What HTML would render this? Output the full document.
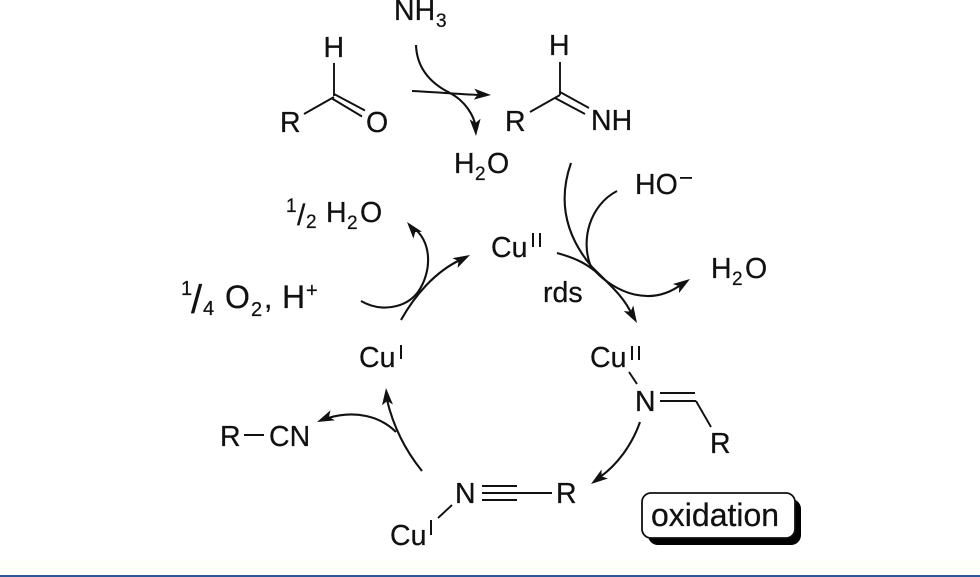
<!DOCTYPE html>
<html><head><meta charset="utf-8">
<style>
html,body{margin:0;padding:0;background:#fff;width:980px;height:577px;overflow:hidden}
svg{display:block}
text{font-family:"Liberation Sans",Arial,sans-serif;font-size:28.5px;fill:#111;stroke:#111;stroke-width:.25}
.s{font-size:19px}
.b{font-size:32px}
path,line{fill:none;stroke:#111;stroke-width:1.9}
path.a{stroke-width:2.1}
</style></head><body>
<svg width="980" height="577" viewBox="0 0 980 577" xmlns="http://www.w3.org/2000/svg">
<defs><polygon id="h" points="0,0 -17,-5.5 -13,0 -17,5.5" fill="#111"/></defs>
<rect x="0" y="575" width="980" height="2" fill="#2a5597"/>
<rect x="0" y="561" width="980" height="14" fill="#fffffa"/>

<!-- aldehyde -->
<text x="394" y="20">NH</text><text class="s" x="436" y="27">3</text>
<text x="323.500" y="57">H</text><text x="280" y="132">R</text><text x="366" y="132">O</text>
<line x1="334" y1="63" x2="334" y2="96"/><line x1="334" y1="97" x2="304" y2="114"/>
<line x1="334" y1="94" x2="365" y2="110.500"/><line x1="332" y1="98.500" x2="362" y2="116.500"/>
<!-- imine -->
<text x="549" y="55">H</text><text x="505" y="131">R</text><text x="591" y="130">NH</text>
<line x1="560" y1="62" x2="560" y2="95"/><line x1="560" y1="95" x2="530" y2="112"/>
<line x1="560" y1="92" x2="589" y2="108"/><line x1="555" y1="98" x2="585" y2="114"/>
<text x="454" y="173">H</text><text class="s" x="475" y="180">2</text><text x="487" y="173">O</text>

<path class="a" d="M416,45 C417,75 440,88 450,93 C465,101 474,115 476,128"/>
<use href="#h" transform="translate(476,136) rotate(87)"/>
<path class="a" d="M412,91 C435,92 455,94 480,95"/>
<use href="#h" transform="translate(491,95) rotate(3)"/>

<!-- right top -->
<text x="635" y="194">HO</text><rect x="680" y="177" width="12" height="1.800" fill="#111"/>
<text x="711" y="278">H</text><text class="s" x="732" y="285">2</text><text x="745" y="278">O</text>
<text x="491" y="257">Cu</text>
<rect x="532" y="233" width="2" height="14" fill="#111"/><rect x="539" y="233" width="2" height="14" fill="#111"/>
<text x="543" y="302">rds</text>
<path class="a" d="M571,163 C558,200 565,235 592,267 C610,285 625,298 632,315"/>
<use href="#h" transform="translate(637,323) rotate(60)"/>
<path class="a" d="M557,253 C575,258 585,263 595,271 C615,292 650,308 682,284"/>
<use href="#h" transform="translate(690,279) rotate(-34)"/>
<path class="a" d="M617,191 C590,205 580,240 591,267"/>

<!-- left top -->
<text class="s" x="286" y="212">1</text>
<text x="297" y="225" style="font-size:30px">/</text>
<text class="s" x="306" y="228">2</text>
<text x="326" y="222">H</text><text class="s" x="347" y="229">2</text><text x="360" y="222">O</text>
<text class="s" x="181" y="295" style="font-size:20px">1</text>
<text x="191" y="313" style="font-size:40px">/</text>
<text class="s" x="203" y="315" style="font-size:20px">4</text>
<text class="b" x="225" y="308">O</text><text class="s" x="251" y="316" style="font-size:20px">2</text>
<text class="b" x="264" y="308" style="font-size:30px">,</text>
<text class="b" x="282" y="308">H</text>
<text class="s" x="306" y="297" style="font-size:20px">+</text>
<path class="a" d="M361,301 C380,312 405,309 418,292 C432,272 433,240 411,226"/>
<use href="#h" transform="translate(407,222) rotate(-129)"/>
<path class="a" d="M401,320 C415,295 435,272 460,260"/>
<use href="#h" transform="translate(470,255) rotate(-28)"/>
<text x="359" y="367">Cu</text><rect x="400" y="345" width="2" height="14" fill="#111"/>

<!-- left bottom -->
<text x="220" y="446">R</text><line x1="244" y1="435" x2="264" y2="435"/><text x="269" y="446">CN</text>
<path class="a" d="M422,471 C405,450 393,425 387,400"/>
<use href="#h" transform="translate(386,388) rotate(-95)"/>
<path class="a" d="M396,432 C380,416 355,410 328,418"/>
<use href="#h" transform="translate(317,422) rotate(157)"/>

<!-- bottom -->
<text x="455" y="503">N</text>
<line x1="482" y1="486" x2="517" y2="486"/><line x1="482" y1="493" x2="552" y2="493"/><line x1="482" y1="500" x2="517" y2="500"/>
<text x="556" y="503">R</text>
<line x1="452" y1="505" x2="438" y2="518"/>
<text x="390" y="545">Cu</text><rect x="430" y="520" width="2" height="15" fill="#111"/>

<!-- right bottom -->
<text x="590" y="367">Cu</text>
<rect x="631" y="346" width="2" height="14" fill="#111"/><rect x="638" y="346" width="2" height="14" fill="#111"/>
<line x1="629" y1="372" x2="637" y2="384"/>
<text x="635" y="411">N</text>
<line x1="660" y1="393" x2="695" y2="393"/><line x1="660" y1="401" x2="696" y2="401"/><line x1="696" y1="401" x2="711" y2="427"/>
<text x="710" y="453">R</text>
<path class="a" d="M640,422 C632,445 617,465 600,477"/>
<use href="#h" transform="translate(591,484) rotate(144)"/>

<!-- oxidation box -->
<rect x="648" y="499" width="153" height="46" rx="10" fill="#000"/>
<rect x="642" y="493" width="153" height="45" rx="9" fill="#fff" stroke="#111" stroke-width="1.800"/>
<text class="b" x="651" y="526">oxidation</text>
</svg>
</body></html>
